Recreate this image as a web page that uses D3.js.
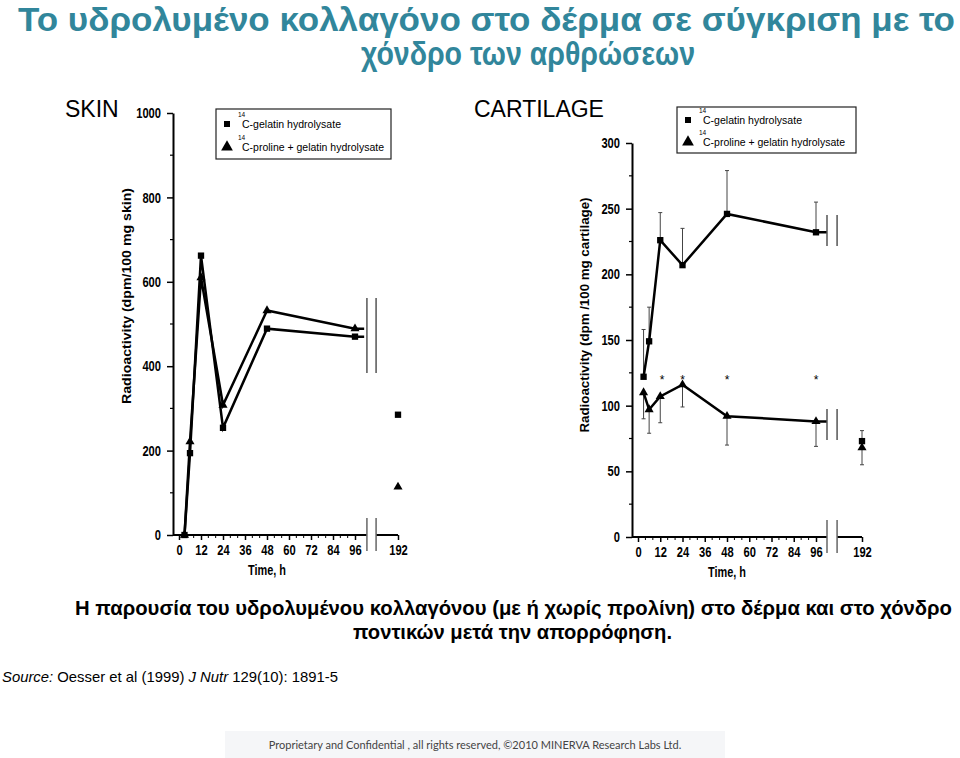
<!DOCTYPE html>
<html>
<head>
<meta charset="utf-8">
<script src="https://cdn.jsdelivr.net/npm/d3@7"></script>
<style>
body { margin: 0; background: #fff; }
svg { display: block; }
text { font-family: "Liberation Sans Narrow", "Arial Narrow", "Liberation Sans", Arial, sans-serif; }
.leg text { font-family: "Liberation Sans", Arial, sans-serif; }
</style>
</head>
<body>
<svg width="960" height="758"></svg>
<script>
// sampling times (h) and read-off values
var hours = [3, 6, 12, 24, 48, 96, 192];
var xTickHours = [0, 12, 24, 36, 48, 60, 72, 84, 96, 192];

var skinGelatin = [0, 194, 662, 254, 489, 470, 285];
var skinProline = [0, 221, 610, 308, 532, 489, 114];

var cartGelatin = [122, 149, 226, 207, 246, 232, 73];
var cartGelatinErr = [36, 26, 21, 28, 33, 23, 8];     // drawn upward
var cartProline = [110, 97, 107, 116, 92, 88, 68];
var cartProlineErr = [20, 18, 20, 17, 22, 19, 13];    // drawn downward
var starHours = [13, 24, 48, 96];
var starLevel = 121;

var legendLabels = ['C-gelatin hydrolysate', 'C-proline + gelatin hydrolysate'];
var legendLens = [99, 142];

var svg = d3.select('svg');

// narrow look without a narrow font: squeeze each label to a width
var squeeze = function (sel, perChar) {
	sel.attr('textLength', function (d) { return String(d).length * perChar; })
		.attr('lengthAdjust', 'spacingAndGlyphs');
};

// titles
var title = svg.append('g').attr('fill', '#31869b').attr('font-weight', 'bold');
title.append('text').attr('x', 18).attr('y', 31).attr('font-size', 33)
	.attr('textLength', 937).attr('lengthAdjust', 'spacingAndGlyphs')
	.text('Το υδρολυμένο κολλαγόνο στο δέρμα σε σύγκριση με το');
title.append('text').attr('x', 361).attr('y', 65).attr('font-size', 33)
	.attr('textLength', 334).attr('lengthAdjust', 'spacingAndGlyphs')
	.text('χόνδρο των αρθρώσεων');

svg.append('text').attr('x', 65).attr('y', 117).attr('font-size', 23)
	.style('font-family', 'Liberation Sans, Arial, sans-serif').text('SKIN');
svg.append('text').attr('x', 474).attr('y', 117).attr('font-size', 23)
	.style('font-family', 'Liberation Sans, Arial, sans-serif').text('CARTILAGE');

var drawPanel = function (o) {
	var x = d3.scaleLinear().domain([0, 96, 108, 192]).range(o.xRange);
	var y = d3.scaleLinear().domain([0, o.yMax]).range(o.yRange);
	var g = svg.append('g');

	// y axis
	var yAx = g.append('g').attr('transform', 'translate(' + o.axisX + ',0)')
		.call(d3.axisLeft(y).tickValues(d3.range(0, o.yMax + 1, o.major))
			.tickSize(6).tickSizeOuter(0).tickPadding(6).tickFormat(d3.format('d')));
	yAx.select('.domain').attr('stroke-width', 2);
	yAx.selectAll('.tick line').attr('stroke-width', 1.5);
	yAx.selectAll('.tick text').attr('font-size', 14.5).attr('font-weight', 'bold').call(squeeze, 6.2);
	g.selectAll('.yminor').data(d3.range(o.major / 2, o.yMax, o.major))
		.enter().append('line')
		.attr('x1', o.axisX - 3).attr('x2', o.axisX)
		.attr('y1', function (d) { return y(d); }).attr('y2', function (d) { return y(d); })
		.attr('stroke', '#000').attr('stroke-width', 1.2);

	// x axis with a break between 96 and 192 h
	var xAx = g.append('g').attr('transform', 'translate(0,' + o.yRange[0] + ')')
		.call(d3.axisBottom(x).tickValues(xTickHours).tickSize(5).tickPadding(5).tickFormat(d3.format('d')));
	xAx.select('.domain').remove();
	xAx.selectAll('.tick line').attr('stroke-width', 1.5);
	xAx.selectAll('.tick text').attr('font-size', 14.5).attr('font-weight', 'bold').call(squeeze, 6.2);
	g.selectAll('.xminor').data(d3.range(4, 96, 4).filter(function (d) { return d % 12; }))
		.enter().append('line')
		.attr('x1', function (d) { return x(d); }).attr('x2', function (d) { return x(d); })
		.attr('y1', o.yRange[0]).attr('y2', o.yRange[0] + 3)
		.attr('stroke', '#000').attr('stroke-width', 1);
	g.append('path')
		.attr('d', 'M' + o.axisX + ',' + o.yRange[0] + 'H' + x(o.breakA) +
			'M' + x(o.breakB) + ',' + o.yRange[0] + 'H' + x(192))
		.attr('stroke', '#000').attr('stroke-width', 2).attr('fill', 'none');
	[o.breakA, o.breakB].forEach(function (h) {
		g.append('line').attr('x1', x(h)).attr('x2', x(h))
			.attr('y1', o.yRange[0] - 17).attr('y2', o.yRange[0] + 16)
			.attr('stroke', '#666').attr('stroke-width', 1.5);
	});

	g.append('text').attr('x', x(48)).attr('y', o.yRange[0] + 40)
		.attr('text-anchor', 'middle').attr('font-size', 15.5).attr('font-weight', 'bold')
		.attr('textLength', 38).attr('lengthAdjust', 'spacingAndGlyphs')
		.text('Time, h');
	g.append('text')
		.attr('transform', 'translate(' + o.labelX + ',' + o.labelY + ') rotate(-90)')
		.attr('text-anchor', 'middle').attr('font-size', 12.5).attr('font-weight', 'bold')
		.style('font-family', 'Liberation Sans, Arial, sans-serif')
		.attr('textLength', o.labelLen).attr('lengthAdjust', 'spacingAndGlyphs')
		.text(o.label);

	// series
	var line = d3.line().x(function (d) { return x(d[0]); }).y(function (d) { return y(d[1]); });
	o.series.forEach(function (s) {
		var pts = hours.slice(0, 6).map(function (h, i) { return [h, s.values[i]]; });
		pts.push([o.lineEnd, s.values[5]]);

		if (s.err) {
			g.selectAll(null).data(hours).enter().append('path')
				.attr('d', function (h, i) {
					var v = s.values[i], e = v + s.dir * s.err[i];
					return 'M' + x(h) + ',' + y(v) + 'V' + y(e) + 'M' + (x(h) - 2) + ',' + y(e) + 'H' + (x(h) + 2);
				})
				.attr('stroke', '#444').attr('stroke-width', 1).attr('fill', 'none');
		}

		g.append('path').datum(pts).attr('d', line)
			.attr('fill', 'none').attr('stroke', '#000').attr('stroke-width', 2.5);

		g.selectAll(null).data(hours).enter().append('path')
			.attr('transform', function (h, i) { return 'translate(' + x(h) + ',' + y(s.values[i]) + ')'; })
			.attr('d', d3.symbol().type(s.symbol).size(s.symbol === d3.symbolSquare ? 40 : 36))
			.attr('fill', '#000');

		if (s.breakY) {
			[o.breakA, o.breakB].forEach(function (h) {
				g.append('line').attr('x1', x(h)).attr('x2', x(h))
					.attr('y1', s.breakY[0]).attr('y2', s.breakY[1])
					.attr('stroke', '#555').attr('stroke-width', 1.5);
			});
		}
	});

	if (o.stars) {
		g.selectAll(null).data(o.stars).enter().append('text')
			.attr('x', function (h) { return x(h); }).attr('y', y(starLevel) + 6)
			.attr('text-anchor', 'middle').attr('font-size', 12).text('*');
	}

	// legend
	var leg = g.append('g').attr('class', 'leg');
	leg.append('rect').attr('x', o.legend[0]).attr('y', o.legend[1])
		.attr('width', o.legend[2]).attr('height', o.legend[3])
		.attr('fill', '#fff').attr('stroke', '#222').attr('stroke-width', 1.2);
	[d3.symbolSquare, d3.symbolTriangle].forEach(function (sym, i) {
		var ly = o.legend[1] + o.legendRow[i];
		leg.append('path').attr('transform', 'translate(' + (o.legend[0] + 11) + ',' + ly + ')')
			.attr('d', d3.symbol().type(sym).size(sym === d3.symbolSquare ? 36 : 60)).attr('fill', '#000');
		leg.append('text').attr('x', o.legend[0] + 22).attr('y', ly - 7).attr('font-size', 6.5).text('14');
		leg.append('text').attr('x', o.legend[0] + 26).attr('y', ly + 4).attr('font-size', 11.5)
			.attr('textLength', legendLens[i]).attr('lengthAdjust', 'spacingAndGlyphs')
			.text(legendLabels[i]);
	});
};

drawPanel({
	xRange: [179, 355, 377, 398], yRange: [535, 113], yMax: 1000, major: 200, axisX: 173,
	breakA: 102.5, breakB: 107.5, lineEnd: 101,
	label: 'Radioactivity (dpm/100 mg skin)', labelX: 131, labelY: 296, labelLen: 216,
	legend: [216, 109, 175, 50], legendRow: [15, 38],
	series: [
		{ values: skinGelatin, symbol: d3.symbolSquare, breakY: [298, 373] },
		{ values: skinProline, symbol: d3.symbolTriangle }
	]
});

drawPanel({
	xRange: [638, 816, 838, 862], yRange: [537, 143], yMax: 300, major: 50, axisX: 632,
	breakA: 102, breakB: 107.5, lineEnd: 102,
	label: 'Radioactivity (dpm /100 mg cartilage)', labelX: 589, labelY: 315, labelLen: 235,
	legend: [677, 107, 179, 46], legendRow: [13, 35],
	stars: starHours,
	series: [
		{ values: cartGelatin, err: cartGelatinErr, dir: 1, symbol: d3.symbolSquare, breakY: [215, 246] },
		{ values: cartProline, err: cartProlineErr, dir: -1, symbol: d3.symbolTriangle, breakY: [409, 440] }
	]
});

// caption, source, footer
var cap = svg.append('g').attr('font-weight', 'bold').attr('font-size', 20);
cap.append('text').attr('x', 75).attr('y', 615)
	.attr('textLength', 877).attr('lengthAdjust', 'spacingAndGlyphs')
	.text('Η παρουσία του υδρολυμένου κολλαγόνου (με ή χωρίς προλίνη) στο δέρμα και στο χόνδρο');
cap.append('text').attr('x', 353).attr('y', 639)
	.attr('textLength', 319).attr('lengthAdjust', 'spacingAndGlyphs')
	.text('ποντικών μετά την απορρόφηση.');

var src = svg.append('text').attr('x', 2).attr('y', 682).attr('font-size', 15)
	.attr('textLength', 336).attr('lengthAdjust', 'spacingAndGlyphs');
src.append('tspan').attr('font-style', 'italic').text('Source:');
src.append('tspan').text(' Oesser et al (1999) ');
src.append('tspan').attr('font-style', 'italic').text('J Nutr');
src.append('tspan').text(' 129(10): 1891-5');

svg.append('rect').attr('x', 225).attr('y', 731).attr('width', 500).attr('height', 27).attr('fill', '#f5f6f8');
svg.append('text').attr('x', 475).attr('y', 749).attr('text-anchor', 'middle')
	.attr('font-size', 11).attr('fill', '#444').style('font-family', 'Lato, "Open Sans", sans-serif')
	.text('Proprietary and Confidential , all rights reserved, ©2010 MINERVA Research Labs Ltd.');
</script>
</body>
</html>
